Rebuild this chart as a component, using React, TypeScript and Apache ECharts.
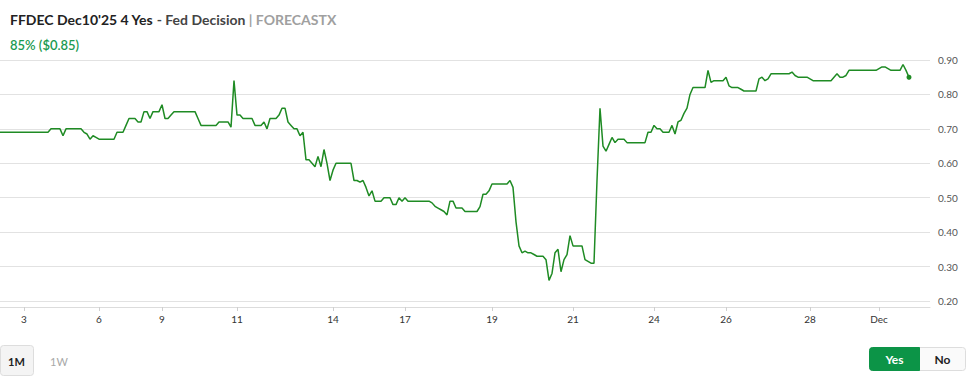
import React, { useEffect, useRef } from 'react';
import * as echarts from 'echarts';

// Yes price, sampled evenly along the chart's (irregular, trade-indexed) time axis
const yesPrice = [
  0.69, 0.69, 0.69, 0.69, 0.69, 0.69, 0.69, 0.69, 0.69, 0.69,
  0.69, 0.69, 0.69, 0.69, 0.69, 0.69, 0.69, 0.70, 0.70, 0.70,
  0.70, 0.68, 0.70, 0.70, 0.70, 0.70, 0.70, 0.70, 0.69, 0.685,
  0.67, 0.68, 0.675, 0.67, 0.67, 0.67, 0.67, 0.67, 0.67, 0.69,
  0.69, 0.69, 0.71, 0.73, 0.73, 0.73, 0.72, 0.72, 0.75, 0.75,
  0.73, 0.75, 0.75, 0.75, 0.77, 0.73, 0.73, 0.74, 0.75, 0.75,
  0.75, 0.75, 0.75, 0.75, 0.75, 0.75, 0.73, 0.71, 0.71, 0.71,
  0.71, 0.71, 0.71, 0.72, 0.72, 0.72, 0.72, 0.705, 0.84, 0.74,
  0.74, 0.73, 0.73, 0.73, 0.73, 0.71, 0.71, 0.71, 0.72, 0.70,
  0.73, 0.73, 0.73, 0.74, 0.76, 0.76, 0.72, 0.71, 0.70, 0.70,
  0.68, 0.69, 0.61, 0.61, 0.60, 0.59, 0.62, 0.59, 0.64, 0.60,
  0.55, 0.58, 0.60, 0.60, 0.60, 0.60, 0.60, 0.60, 0.55, 0.55,
  0.545, 0.55, 0.53, 0.505, 0.52, 0.49, 0.49, 0.49, 0.50, 0.50,
  0.50, 0.48, 0.48, 0.50, 0.49, 0.50, 0.49, 0.49, 0.49, 0.49,
  0.49, 0.49, 0.49, 0.49, 0.485, 0.475, 0.47, 0.465, 0.46, 0.45,
  0.49, 0.49, 0.47, 0.47, 0.47, 0.46, 0.46, 0.46, 0.46, 0.46,
  0.474, 0.51, 0.51, 0.52, 0.54, 0.54, 0.54, 0.54, 0.54, 0.54,
  0.55, 0.53, 0.43, 0.36, 0.34, 0.345, 0.34, 0.34, 0.335, 0.33,
  0.33, 0.33, 0.32, 0.26, 0.28, 0.34, 0.35, 0.285, 0.32, 0.335,
  0.39, 0.36, 0.36, 0.36, 0.36, 0.32, 0.315, 0.31, 0.31, 0.55,
  0.76, 0.65, 0.635, 0.655, 0.675, 0.66, 0.67, 0.67, 0.67, 0.66,
  0.66, 0.66, 0.66, 0.66, 0.66, 0.66, 0.69, 0.69, 0.71, 0.70,
  0.70, 0.69, 0.69, 0.69, 0.71, 0.685, 0.72, 0.725, 0.745, 0.76,
  0.80, 0.82, 0.82, 0.82, 0.82, 0.82, 0.87, 0.835, 0.84, 0.84,
  0.84, 0.84, 0.85, 0.825, 0.82, 0.82, 0.82, 0.815, 0.81, 0.81,
  0.81, 0.81, 0.81, 0.845, 0.85, 0.84, 0.845, 0.86, 0.86, 0.86,
  0.86, 0.86, 0.86, 0.86, 0.865, 0.855, 0.85, 0.85, 0.85, 0.85,
  0.845, 0.84, 0.84, 0.84, 0.84, 0.84, 0.84, 0.84, 0.85, 0.86,
  0.85, 0.85, 0.855, 0.87, 0.87, 0.87, 0.87, 0.87, 0.87, 0.87,
  0.87, 0.87, 0.87, 0.875, 0.88, 0.88, 0.875, 0.87, 0.87, 0.87,
  0.87, 0.887, 0.87, 0.85,
];

// total time slots on the axis (data stops before the end of the window)
const slotCount = 311;
// x-axis day ticks: slot index and label
const dayTickSlots = [8, 33, 54, 79, 111, 135, 164, 191, 218, 242, 270, 293];
const dayTickLabels = ['3', '6', '9', '11', '14', '17', '19', '21', '24', '26', '28', 'Dec'];

const yMin = 0.2;
const yMax = 0.9;
const yStep = 0.1;

const titleMain = "FFDEC Dec10'25 4 Yes";
const titleSub = ' - Fed Decision';
const titleSource = ' | FORECASTX';
const priceText = '85% ($0.85)';

const FONT = 'Lato, "Open Sans", sans-serif';
const LINE_GREEN = '#1f8b24';

export default function App() {
  const ref = useRef<HTMLDivElement>(null);

  useEffect(() => {
    if (!ref.current) return;
    const chart = echarts.init(ref.current, null, { renderer: 'svg' });
    const cats = Array.from({ length: slotCount }, (_, i) => `s${i}`);
    const labelAt: Record<number, string> = {};
    dayTickSlots.forEach((ix, k) => {
      labelAt[ix] = dayTickLabels[k];
    });
    const last = yesPrice.length - 1;

    chart.setOption({
      animation: false,
      textStyle: { fontFamily: FONT },
      title: [
        {
          left: 5,
          top: 7,
          text: `{a|${titleMain}}{b|${titleSub}}{c|${titleSource}}`,
          textStyle: {
            rich: {
              a: { fontSize: 14, fontWeight: 'bold', color: '#222', fontFamily: FONT },
              b: { fontSize: 14, color: '#444', fontFamily: FONT },
              c: { fontSize: 14, color: '#a0a0a0', fontFamily: FONT },
            },
          },
        },
        {
          left: 5,
          top: 33,
          text: priceText,
          textStyle: { fontSize: 13, fontWeight: 600, color: '#1a9a50', fontFamily: FONT },
        },
      ],
      grid: { left: 0, right: 43, top: 60, bottom: 78, containLabel: false },
      xAxis: {
        type: 'category',
        data: cats,
        boundaryGap: false,
        offset: 6,
        axisLine: { lineStyle: { color: '#dcdcdc', width: 1 } },
        axisTick: {
          show: true,
          length: 4,
          interval: (index: number) => labelAt[index] !== undefined,
          lineStyle: { color: '#cfcfcf' },
        },
        axisLabel: {
          interval: (index: number) => labelAt[index] !== undefined,
          formatter: (_v: string, index: number) => labelAt[index] ?? '',
          fontSize: 10,
          color: '#333',
          margin: 7,
        },
        splitLine: { show: false },
      },
      yAxis: {
        type: 'value',
        position: 'right',
        min: yMin,
        max: yMax,
        interval: yStep,
        axisLine: { show: false },
        axisTick: { show: false },
        axisLabel: {
          formatter: (v: number) => v.toFixed(2),
          fontSize: 10,
          color: '#555',
          margin: 8,
        },
        splitLine: { lineStyle: { color: '#e2e2e2', width: 1 } },
      },
      series: [
        {
          type: 'line',
          data: yesPrice,
          symbol: 'none',
          showSymbol: false,
          lineStyle: { color: LINE_GREEN, width: 1.5 },
          itemStyle: { color: LINE_GREEN },
          markPoint: {
            symbol: 'circle',
            symbolSize: 5,
            itemStyle: { color: LINE_GREEN },
            label: { show: false },
            silent: true,
            data: [{ coord: [last, yesPrice[last]] }],
          },
        },
      ],
      graphic: [
        {
          type: 'rect',
          shape: { x: 0.5, y: 345.5, width: 33, height: 30, r: 3 },
          style: { fill: '#f4f4f4', stroke: '#dddddd', lineWidth: 1 },
        },
        {
          type: 'text',
          x: 16.5,
          y: 361,
          style: {
            text: '1M',
            fontSize: 11,
            fontWeight: 'bold',
            fill: '#222',
            align: 'center',
            verticalAlign: 'middle',
            fontFamily: FONT,
          },
        },
        {
          type: 'text',
          x: 59,
          y: 361,
          style: {
            text: '1W',
            fontSize: 11,
            fill: '#a8a8a8',
            align: 'center',
            verticalAlign: 'middle',
            fontFamily: FONT,
          },
        },
        {
          type: 'rect',
          shape: { x: 869.5, y: 347.5, width: 96, height: 23, r: 3 },
          style: { fill: '#fafafa', stroke: '#dddddd', lineWidth: 1 },
        },
        {
          type: 'rect',
          shape: { x: 869.5, y: 347.5, width: 50, height: 23, r: [3, 0, 0, 3] },
          style: { fill: '#0c9447', stroke: '#0c9447', lineWidth: 1 },
        },
        {
          type: 'text',
          x: 894.5,
          y: 359.5,
          style: {
            text: 'Yes',
            fontSize: 12,
            fontWeight: 'bold',
            fill: '#ffffff',
            align: 'center',
            verticalAlign: 'middle',
            fontFamily: FONT,
          },
        },
        {
          type: 'text',
          x: 942.5,
          y: 359.5,
          style: {
            text: 'No',
            fontSize: 12,
            fontWeight: 'bold',
            fill: '#222',
            align: 'center',
            verticalAlign: 'middle',
            fontFamily: FONT,
          },
        },
      ],
    });

    return () => chart.dispose();
  }, []);

  return (
    <div
      ref={ref}
      style={{ position: 'fixed', left: 0, top: 0, width: 973, height: 379, background: '#fff' }}
    />
  );
}
